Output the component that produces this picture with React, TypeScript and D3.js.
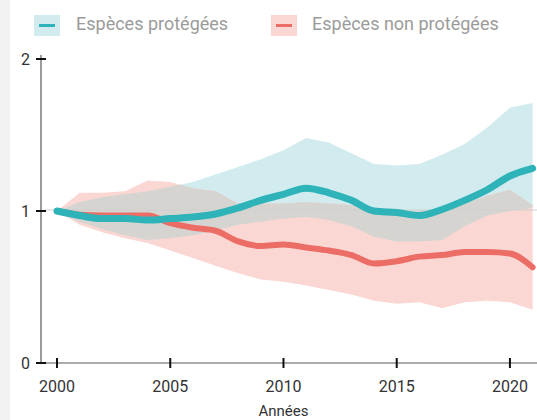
import React from "react";
import * as d3 from "d3";

const years = d3.range(2000, 2022);
const xTicks = [2000, 2005, 2010, 2015, 2020];
const yTicks = [0, 1, 2];

const protMid = [1.0, 0.97, 0.95, 0.95, 0.94, 0.95, 0.96, 0.98, 1.02, 1.07, 1.11, 1.15, 1.12, 1.07, 1.0, 0.99, 0.97, 1.01, 1.07, 1.14, 1.23, 1.28];
const protUpper = [1.0, 1.06, 1.09, 1.11, 1.13, 1.16, 1.19, 1.24, 1.29, 1.34, 1.4, 1.48, 1.45, 1.38, 1.31, 1.3, 1.31, 1.37, 1.44, 1.55, 1.68, 1.71];
const protLower = [1.0, 0.93, 0.88, 0.84, 0.81, 0.82, 0.84, 0.87, 0.91, 0.93, 0.95, 0.96, 0.94, 0.9, 0.83, 0.8, 0.8, 0.81, 0.9, 0.97, 1.0, 1.02];

const nonMid = [1.0, 0.975, 0.97, 0.97, 0.97, 0.92, 0.89, 0.87, 0.8, 0.77, 0.78, 0.76, 0.74, 0.71, 0.655, 0.67, 0.7, 0.71, 0.73, 0.73, 0.72, 0.63];
const nonUpper = [1.0, 1.12, 1.12, 1.13, 1.2, 1.19, 1.15, 1.13, 1.05, 1.05, 1.05, 1.06, 1.05, 1.04, 1.01, 1.0, 1.0, 1.01, 1.05, 1.1, 1.14, 1.04];
const nonLower = [1.0, 0.91, 0.86, 0.82, 0.79, 0.74, 0.69, 0.64, 0.59, 0.55, 0.535, 0.51, 0.48, 0.45, 0.41, 0.39, 0.4, 0.36, 0.4, 0.41, 0.4, 0.35];

const legendLabels = ["Espèces protégées", "Espèces non protégées"];
const axisTitle = "Années";

const W = 537;
const H = 420;

const TEAL = "#2db3b8";
const TEAL_BAND = "#d2ebee";
const RED = "#ec6d66";
const RED_BAND = "#fad7d3";
const GREY_BAND = "#d5d4d0";

export default function App() {
  const x = d3.scaleLinear().domain([2000, 2021]).range([57, 532.6]);
  const y = d3.scaleLinear().domain([0, 2]).range([363, 59]);

  const band = (lo: number[], hi: number[]) =>
    d3
      .area<number>()
      .x((d) => x(d))
      .y0((_, i) => y(lo[i]))
      .y1((_, i) => y(hi[i]))(years) as string;

  const line = (vals: number[]) =>
    d3
      .line<number>()
      .x((d) => x(d))
      .y((_, i) => y(vals[i]))
      .curve(d3.curveMonotoneX)(years) as string;

  const protBand = band(protLower, protUpper);
  const nonBand = band(nonLower, nonUpper);

  const font = "Roboto, 'DejaVu Sans', sans-serif";

  return (
    <div style={{ position: "fixed", left: 0, top: 0 }}>
      <svg width={W} height={H} style={{ display: "block", background: "#fff" }}>
        <defs>
          <clipPath id="nonClip">
            <path d={nonBand} />
          </clipPath>
        </defs>
        <rect x={0} y={0} width={10} height={H} fill="#f2f2f2" />

        {/* legend */}
        <g>
          <rect x={34} y={15} width={26} height={21} fill={TEAL_BAND} />
          <line x1={39} x2={55} y1={25.5} y2={25.5} stroke={TEAL} strokeWidth={3} />
          <text x={76} y={30} fontFamily={font} fontSize={18} fill="#9b9b9b">
            {legendLabels[0]}
          </text>
          <rect x={271} y={15} width={26} height={21} fill={RED_BAND} />
          <line x1={276} x2={292} y1={25.5} y2={25.5} stroke={RED} strokeWidth={3} />
          <text x={312} y={30} fontFamily={font} fontSize={18} fill="#9b9b9b">
            {legendLabels[1]}
          </text>
        </g>

        {/* bands */}
        <path d={protBand} fill={TEAL_BAND} />
        <path d={nonBand} fill={RED_BAND} />
        <path d={protBand} fill={GREY_BAND} clipPath="url(#nonClip)" />

        {/* reference line at 1 */}
        <line x1={45} x2={W} y1={y(1) - 1} y2={y(1) - 1} stroke="#cfcfcf" strokeWidth={1} />

        {/* axes */}
        <line x1={41} x2={41} y1={55} y2={y(0)} stroke="#7a7a7a" strokeWidth={1.5} />
        <line x1={36} x2={W} y1={y(0)} y2={y(0)} stroke="#ababab" strokeWidth={2} />
        {yTicks.map((t) => (
          <g key={t}>
            <line x1={36} x2={46} y1={y(t)} y2={y(t)} stroke="#111" strokeWidth={2} />
            <text
              x={30}
              y={y(t)}
              textAnchor="end"
              dominantBaseline="central"
              fontFamily={font}
              fontSize={16}
              fill="#333"
            >
              {t}
            </text>
          </g>
        ))}
        {xTicks.map((t) => (
          <g key={t}>
            <line x1={x(t)} x2={x(t)} y1={y(0) - 5} y2={y(0) + 5} stroke="#111" strokeWidth={2} />
            <text x={x(t)} y={392} textAnchor="middle" fontFamily={font} fontSize={16} fill="#333">
              {t}
            </text>
          </g>
        ))}
        <text x={x(2010)} y={416} textAnchor="middle" fontFamily={font} fontSize={15} fill="#333">
          {axisTitle}
        </text>

        {/* lines */}
        <path d={line(nonMid)} fill="none" stroke={RED} strokeWidth={6} strokeLinecap="round" strokeLinejoin="round" />
        <path d={line(protMid)} fill="none" stroke={TEAL} strokeWidth={7} strokeLinecap="round" strokeLinejoin="round" />
      </svg>
    </div>
  );
}
